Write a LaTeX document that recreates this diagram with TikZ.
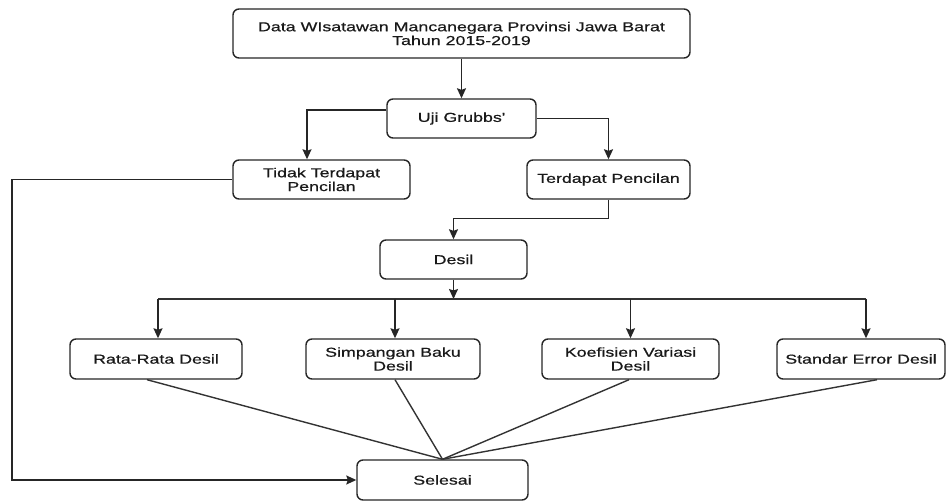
\documentclass[tikz,border=0pt]{standalone}
\usepackage{fontspec}
\setmainfont[FakeStretch=1.37,FakeBold=0.6,Ligatures=TeXOff]{Liberation Sans}
\usetikzlibrary{arrows.meta,calc}
\begin{document}
\begin{tikzpicture}[x=1pt,y=-1pt,
  box/.style={draw=black!85,line width=1.4pt,rounded corners=6pt,fill=white,align=center,
    inner sep=0pt,font=\fontsize{13}{13.8}\selectfont,text=black!90},
  arr/.style={draw=black!85,line width=1.5pt,-{Stealth[length=10pt,width=9pt,inset=1.5pt]}},
  ln/.style={draw=black!80,line width=1.4pt}]
\useasboundingbox (0,0) rectangle (946,502);
\node[box,minimum width=457pt,minimum height=49pt] (top) at (461.5,33.5) {Data WIsatawan Mancanegara Provinsi Jawa Barat\\Tahun 2015-2019};
\node[box,minimum width=149pt,minimum height=39pt] (uji) at (461.5,118.5) {Uji Grubbs'};
\node[box,minimum width=177pt,minimum height=39pt] (tidak) at (321.5,179.5) {Tidak Terdapat\\Pencilan};
\node[box,minimum width=163pt,minimum height=39pt] (ada) at (608.5,179.5) {Terdapat Pencilan};
\node[box,minimum width=147pt,minimum height=39pt] (desil) at (453.5,259.5) {Desil};
\node[box,minimum width=172pt,minimum height=40pt] (rata) at (156,359) {Rata-Rata Desil};
\node[box,minimum width=174pt,minimum height=40pt] (simp) at (393,359) {Simpangan Baku\\Desil};
\node[box,minimum width=177pt,minimum height=40pt] (koef) at (630.5,359) {Koefisien Variasi\\Desil};
\node[box,minimum width=168pt,minimum height=40pt] (std) at (861,359) {Standar Error Desil};
\node[box,minimum width=171pt,minimum height=40pt] (sel) at (442.5,480) {Selesai};
\coordinate (lx) at (12,0);
\coordinate (bus) at (0,299);
% connectors
\draw[arr] (top.south) -- (uji.north);
\draw[arr] ([yshift=8.5pt]uji.west) -| ([xshift=-14.5pt]tidak.north);
\draw[arr] (uji.east) -| (ada.north);
\draw[arr] (ada.south) -- ++(0,19) -| (desil.north);
\draw[arr] (desil.south) -- (desil.south |- bus);
\draw[ln] ([xshift=2pt]rata.north |- bus) -- ([xshift=5pt]std.north |- bus);
\draw[arr] ([xshift=2pt]rata.north |- bus) -- ([xshift=2pt]rata.north);
\draw[arr] ([xshift=2pt]simp.north |- bus) -- ([xshift=2pt]simp.north);
\draw[arr] (koef.north |- bus) -- (koef.north);
\draw[arr] ([xshift=5pt]std.north |- bus) -- ([xshift=5pt]std.north);
\draw[ln] ([xshift=-9pt]rata.south) -- (sel.north);
\draw[ln] ([xshift=2pt]simp.south) -- (sel.north);
\draw[ln] ([xshift=-1.5pt]koef.south) -- (sel.north);
\draw[ln] ([xshift=16pt]std.south) -- (sel.north);
\draw[arr] (tidak.west) -- (tidak.west -| lx) |- (sel.west);
\end{tikzpicture}
\end{document}
